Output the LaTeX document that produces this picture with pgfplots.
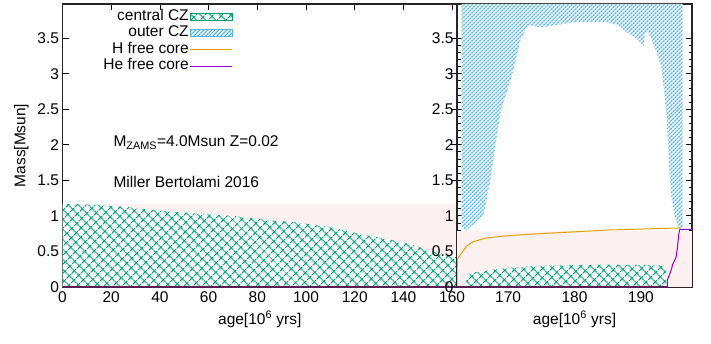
\documentclass[border=0pt]{standalone}
\usepackage{pgfplots}
\pgfplotsset{compat=1.18}
\usepackage{pgfplotstable}
\usetikzlibrary{patterns.meta}
\usepackage{fontspec}
\setmainfont{Liberation Sans}

\definecolor{cgreen}{HTML}{009E73}
\definecolor{cblue}{HTML}{56B4E9}
\definecolor{corange}{HTML}{E69F00}
\definecolor{cpurple}{HTML}{9400D3}
\definecolor{cpink}{HTML}{FDF0F0}
\definecolor{cbottom}{HTML}{5A1E55}

\tikzdeclarepattern{
  name=greenx,
  type=uncolored,
  bounding box={(0pt,0pt) and (6.6pt,6.6pt)},
  tile size={(6.6pt,6.6pt)},
  tile transformation={rotate=45},
  code={
    \pgfsetlinewidth{1.1pt}
    \pgfpathmoveto{\pgfpoint{0pt}{3.3pt}}\pgfpathlineto{\pgfpoint{6.6pt}{3.3pt}}
    \pgfpathmoveto{\pgfpoint{3.3pt}{0pt}}\pgfpathlineto{\pgfpoint{3.3pt}{6.6pt}}
    \pgfusepath{stroke}
  }
}
\tikzdeclarepattern{
  name=bluex,
  type=uncolored,
  bounding box={(0pt,0pt) and (3.2pt,3.2pt)},
  tile size={(3.2pt,3.2pt)},
  tile transformation={rotate=45},
  code={
    \pgfsetlinewidth{1.25pt}
    \pgfpathmoveto{\pgfpoint{0pt}{1.6pt}}\pgfpathlineto{\pgfpoint{3.2pt}{1.6pt}}
    \pgfpathmoveto{\pgfpoint{1.6pt}{0pt}}\pgfpathlineto{\pgfpoint{1.6pt}{3.2pt}}
    \pgfusepath{stroke}
  }
}

% left panel: central convective zone (main sequence)
\pgfplotstableread{
x y
0 0
0 1.17
5 1.165
15 1.155
25 1.13
35 1.09
45 1.06
56 1.03
70 1.00
82 0.95
96 0.91
110 0.84
123 0.74
137 0.65
145 0.58
151 0.51
157 0.46
161.5 0.42
161.8 0
}\czA
% right panel: central convective zone
\pgfplotstableread{
x y
163.7 0
163.7 0.17
164.5 0.20
166 0.22
169.8 0.27
174.8 0.30
180 0.31
185 0.315
190 0.31
193.8 0.31
193.8 0
}\czB
% outer convective zone
\pgfplotstableread{
x y
163.0 3.98
163.0 0.85
163.6 0.79
164.0 0.82
165.2 0.92
166.3 1.02
167.3 1.49
168.1 2.01
168.9 2.48
170.6 2.98
171.9 3.49
172.7 3.63
173.4 3.68
174.9 3.65
176.9 3.68
179.9 3.72
184.9 3.72
186.4 3.69
187.9 3.58
189.4 3.49
190.1 3.42
190.4 3.37
190.6 3.58
191.1 3.58
192.3 3.32
193.1 3.09
193.8 2.48
194.1 1.96
194.3 1.60
194.6 1.26
195.1 0.98
195.7 0.84
195.9 0.81
196.3 0.85
196.3 3.98
}\ocz
% H free core
\pgfplotstableread{
x y
162.3 0
162.35 0.39
163.0 0.48
163.8 0.58
164.8 0.64
166.8 0.69
169.8 0.72
173.8 0.745
177.8 0.765
184.8 0.80
190 0.815
195.6 0.83
195.9 0.83
}\Hcore
% He free core
\pgfplotstableread{
x y
194.0 0
194.0 0.10
194.5 0.22
194.8 0.32
195.3 0.42
195.5 0.55
195.7 0.74
195.85 0.81
197.7 0.81
}\Hecore

\newcommand{\fs}{\fontsize{15.5pt}{18pt}\selectfont}

\begin{document}
\begin{tikzpicture}[font=\fs]
\useasboundingbox (0,0) rectangle (711pt,343pt);
\pgfplotsset{
  myaxis/.style={
    scale only axis, anchor=south west,
    height=283pt, ymin=0, ymax=3.98,
    ytick={0,0.5,...,3.5},
    axis line style={line width=1.1pt, black!85},
    tick style={line width=0.8pt, black},
    major tick length=6pt, minor tick length=3.5pt,
    every tick label/.append style={font=\fs},
    xticklabel style={yshift=-1pt},
    every axis label/.append style={font=\fs},
    /pgf/number format/assume math mode=true,
    xlabel={age[10\textsuperscript{6} yrs]},
    xlabel style={yshift=-2pt},
  }
}
\begin{axis}[myaxis,
  at={(62.5pt,56pt)}, width=394.5pt,
  xmin=0, xmax=162,
  xtick={0,20,...,160},
  ylabel={Mass[Msun]},
  ylabel shift=2pt,
  legend style={at={(0.432,0.985)}, anchor=north east, draw=none, fill=none,
    inner sep=0pt, font=\fs, row sep=0pt,
    nodes={inner sep=1pt, text height=11pt, text depth=3.5pt, font=\fs}},
  legend cell align=right, legend plot pos=right,
]
\addplot[fill=cpink, draw=none, forget plot] coordinates {(0,0) (0,1.17) (162,1.17) (162,0)} -- cycle;
\addplot[fill=white, draw=none, forget plot] table {\czA} -- cycle;
\addplot[pattern=greenx, pattern color=cgreen, draw=none, forget plot] table {\czA} -- cycle;
\addplot[cbottom, line width=1.4pt, forget plot] coordinates {(0,0) (162,0)};
\addlegendimage{legend image code/.code={
  \fill[white] (8pt,-3.5pt) rectangle (50pt,3.5pt);
  \fill[pattern=greenx, pattern color=cgreen] (8pt,-3.5pt) rectangle (50pt,3.5pt);
  \draw[cgreen, line width=0.8pt] (8pt,-3.5pt) rectangle (50pt,3.5pt);}}
\addlegendentry{central CZ}
\addlegendimage{legend image code/.code={
  \fill[white] (8pt,-3.5pt) rectangle (50pt,3.5pt);
  \fill[pattern=bluex, pattern color=cblue] (8pt,-3.5pt) rectangle (50pt,3.5pt);
  \draw[cblue, line width=0.8pt] (8pt,-3.5pt) rectangle (50pt,3.5pt);}}
\addlegendentry{outer CZ}
\addlegendimage{legend image code/.code={\draw[corange, line width=1pt] (8pt,0pt) -- (50pt,0pt);}}
\addlegendentry{H free core}
\addlegendimage{legend image code/.code={\draw[cpurple, line width=1pt] (8pt,0pt) -- (50pt,0pt);}}
\addlegendentry{He free core}
\node[anchor=west, font=\fs] at (axis cs:19.5,2.03) {M\textsubscript{ZAMS}=4.0Msun Z=0.02};
\node[anchor=west, font=\fs] at (axis cs:19.5,1.48) {Miller Bertolami 2016};
\end{axis}
\begin{axis}[myaxis,
  at={(457pt,56pt)}, width=235pt,
  xmin=162.3, xmax=197.7,
  xtick={170,180,190},
  minor y tick num=4,
]
\addplot[fill=cpink, draw=none] coordinates {(162.3,0) (162.3,0.79) (197.7,0.79) (197.7,0)} -- cycle;
\addplot[fill=white, draw=none] table {\ocz} -- cycle;
\addplot[pattern=bluex, pattern color=cblue, draw=none] table {\ocz} -- cycle;
\addplot[fill=white, draw=none] table {\czB} -- cycle;
\addplot[pattern=greenx, pattern color=cgreen, draw=none] table {\czB} -- cycle;
\addplot[corange, line width=1pt] table {\Hcore};
\addplot[cbottom, line width=1.4pt] coordinates {(162.3,0) (194.0,0)};
\addplot[cpurple, line width=1pt] table {\Hecore};
\end{axis}
\end{tikzpicture}
\end{document}
